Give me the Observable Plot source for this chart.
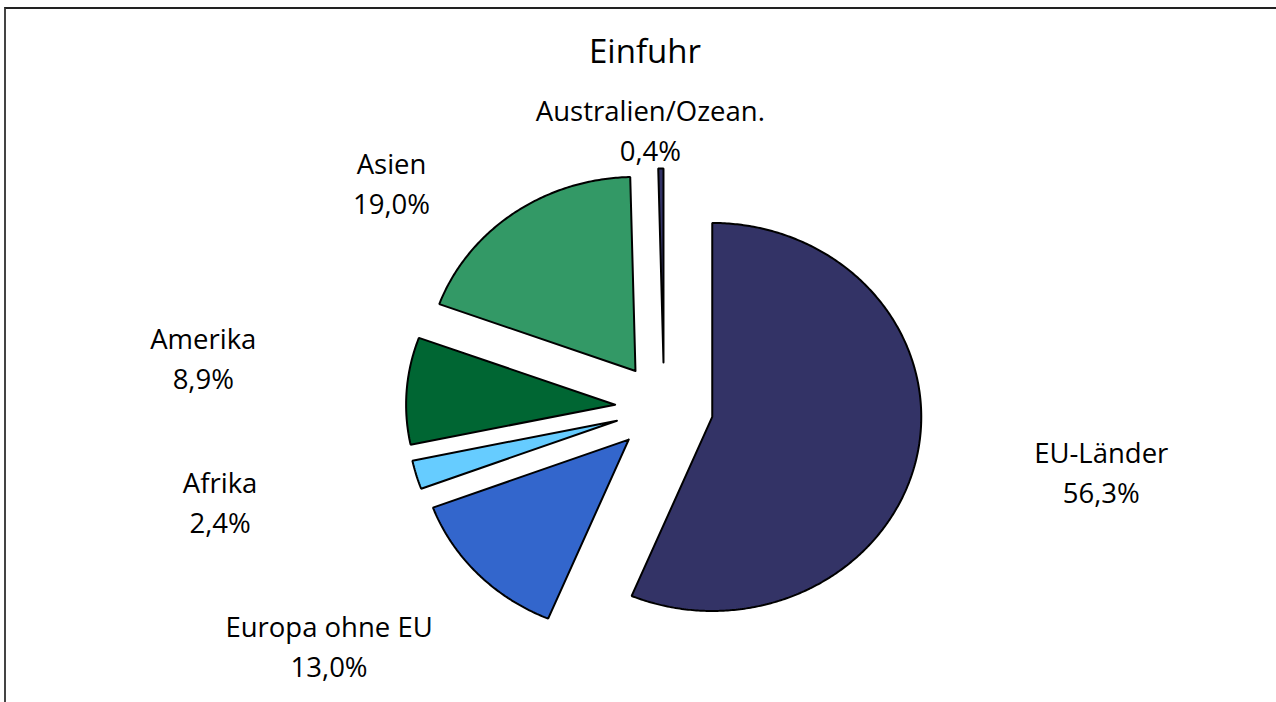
<!DOCTYPE html>
<html>
<head>
<meta charset="utf-8">
<script src="https://cdn.jsdelivr.net/npm/d3@7"></script>
<script src="https://cdn.jsdelivr.net/npm/@observablehq/plot@0.6"></script>
<style>
  html, body { margin: 0; padding: 0; background: #fff; }
  #wrap { position: relative; width: 1276px; height: 702px; overflow: hidden; background: #fff; }
  #frame { position: absolute; left: 4px; top: 7px; width: 1300px; height: 720px;
           border-top: 2px solid #222; border-left: 2px solid #444; box-sizing: border-box; }
  #title { position: absolute; left: 0; top: 34px; width: 1290px; text-align: center;
           font-family: "Open Sans", sans-serif; font-size: 33px; line-height: 1; color: #000; }
  #chart { position: absolute; left: 0; top: 0; }
</style>
</head>
<body>
<div id="wrap">
  <div id="frame"></div>
  <div id="chart"></div>
  <div id="title"></div>
</div>
<script>
// ---- data ----
const chartTitle = "Einfuhr";
const regions = ["EU-Länder", "Europa ohne EU", "Afrika", "Amerika", "Asien", "Australien/Ozean."];
const shares  = [56.3, 13.0, 2.4, 8.9, 19.0, 0.4];
const colors  = ["#333366", "#3366CC", "#66CCFF", "#006633", "#339966", "#333366"];

// ---- layout (not data) ----
const W = 1276, H = 702;
const cx = 663.6, cy = 407.5;        // pie centre in pixels
const rxPx = 209, ryPx = 194;        // pixels per pie radius (x, y)
const explode = 0.235;               // explosion, in pie radii
const labelRx = 454, labelRy = 286;  // label ring radii, px
const labelCx = -8, labelCy = 6;     // label ring centre offset, px (y down)
const labelGap = 144;                // minimum vertical distance between overlapping labels, px
const labelFont = 27.5;

document.getElementById("title").textContent = chartTitle;

const fmt = v => v.toFixed(1).replace(".", ",") + "%";

const arcs = d3.pie().sort(null).value(d => d.share)
  .startAngle(0).endAngle(2 * Math.PI)(regions.map((r, i) => ({region: r, share: shares[i]})));

// polygon outline of each exploded slice, in pie-radius units (y up)
const points = [];
for (const a of arcs) {
  const b = (a.startAngle + a.endAngle) / 2;
  const vx = explode * Math.sin(b), vy = explode * Math.cos(b);
  const region = a.data.region;
  points.push({region, x: vx, y: vy});
  const n = Math.max(4, Math.ceil((a.endAngle - a.startAngle) / 0.01));
  for (let k = 0; k <= n; k++) {
    const t = a.startAngle + (a.endAngle - a.startAngle) * k / n;
    points.push({region, x: vx + Math.sin(t), y: vy + Math.cos(t)});
  }
  points.push({region, x: vx, y: vy});
}

// label placement: ring around the pie, then push overlapping labels apart vertically
const ctx = document.createElement("canvas").getContext("2d");
ctx.font = `${labelFont}px "Open Sans"`;
const lab = arcs.map(a => {
  const b = (a.startAngle + a.endAngle) / 2;
  const name = a.data.region, pct = fmt(a.data.share);
  return {text: name + "\n" + pct,
          w: Math.max(ctx.measureText(name).width, ctx.measureText(pct).width),
          px: labelCx + labelRx * Math.sin(b), py: labelCy - labelRy * Math.cos(b)};
});
for (let it = 0; it < 300; it++) {
  for (let i = 0; i < lab.length; i++) for (let j = i + 1; j < lab.length; j++) {
    const A = lab[i], B = lab[j];
    if (Math.abs(A.px - B.px) >= (A.w + B.w) / 2) continue;
    const d = B.py - A.py;
    if (Math.abs(d) >= labelGap) continue;
    const s = (labelGap - Math.abs(d)) / 2 * (d >= 0 ? 1 : -1);
    A.py -= s; B.py += s;
  }
}
const labels = lab.map(l => ({text: l.text, x: l.px / rxPx, y: -l.py / ryPx}));

const plot = Plot.plot({
  width: W, height: H,
  marginTop: 0, marginRight: 0, marginBottom: 0, marginLeft: 0,
  x: {domain: [-cx / rxPx, (W - cx) / rxPx], axis: null},
  y: {domain: [-(H - cy) / ryPx, cy / ryPx], axis: null},
  color: {domain: regions, range: colors},
  style: {background: "transparent", fontFamily: "Open Sans, sans-serif"},
  marks: [
    Plot.line(points, {x: "x", y: "y", z: "region", fill: "region",
      stroke: "#000", strokeWidth: 2, strokeLinejoin: "miter", curve: "linear"}),
    Plot.text(labels, {x: "x", y: "y", text: "text", fontSize: labelFont, lineHeight: 1.455,
      fill: "#000", textAnchor: "middle", lineAnchor: "middle"})
  ]
});
document.getElementById("chart").appendChild(plot);
</script>
</body>
</html>
